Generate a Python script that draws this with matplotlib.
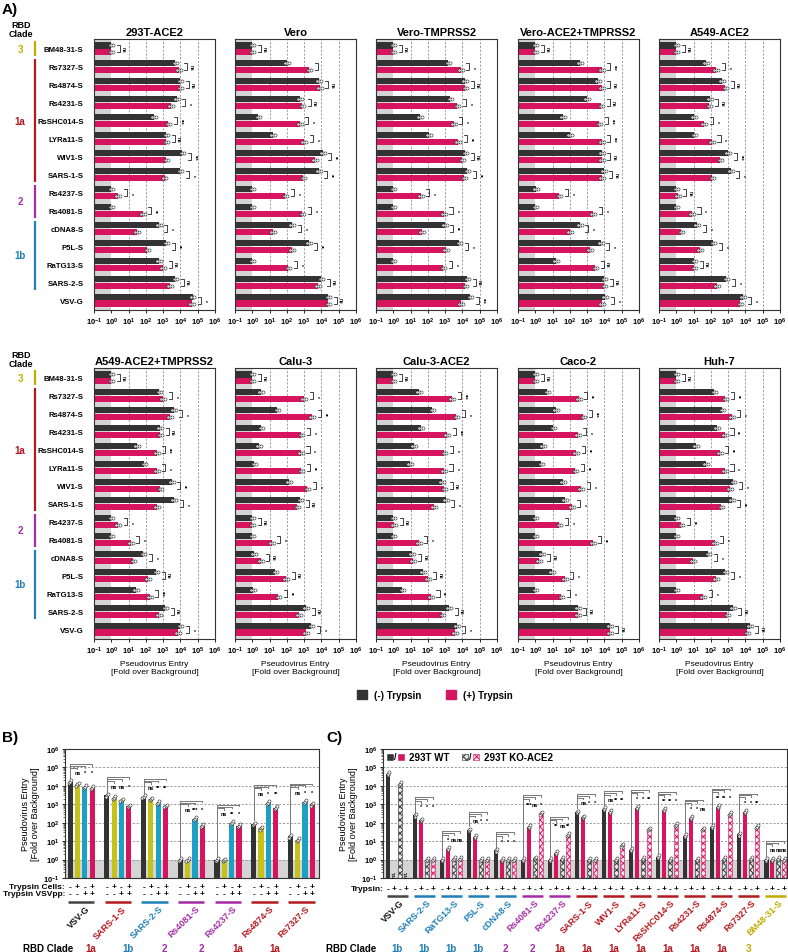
import numpy as np
import matplotlib.pyplot as plt
from matplotlib.patches import Patch, Rectangle
from matplotlib.transforms import blended_transform_factory as blend

plt.rcParams['font.family'] = ['Liberation Sans', 'DejaVu Sans']
plt.rcParams['font.weight'] = 'bold'
plt.rcParams['mathtext.fontset'] = 'custom'
plt.rcParams['mathtext.rm'] = 'Liberation Sans:bold'
plt.rcParams['mathtext.it'] = 'Liberation Sans:bold'
plt.rcParams['mathtext.bf'] = 'Liberation Sans:bold'
plt.rcParams['mathtext.default'] = 'rm'
plt.rcParams['hatch.linewidth'] = 0.7

W, H = 788, 953
DARK = '#333333'
PINK = '#d6145f'
OLIVE = '#c5c21a'
CYAN = '#1ea0c3'
GRAY_BG = '#d4d4d4'
clade_colors = {'1a': '#b3191f', '1b': '#1f7fb8', '2': '#a62ba6', '3': '#c2ac00', '-': '#444444'}

# ---------------- Panel A data ----------------
a_labels = ['BM48-31-S', 'Rs7327-S', 'Rs4874-S', 'Rs4231-S', 'RsSHC014-S', 'LYRa11-S', 'WIV1-S',
            'SARS-1-S', 'Rs4237-S', 'Rs4081-S', 'cDNA8-S', 'P5L-S', 'RaTG13-S', 'SARS-2-S', 'VSV-G']
a_clades = [('3', 0, 0), ('1a', 1, 7), ('2', 8, 9), ('1b', 10, 13)]

hek_minus = [1, 5000, 10000, 6000, 280, 1500, 13000, 10000, 1, 1, 550, 1500, 550, 5000, 50000]
hek_plus = [1, 8000, 10000, 2800, 2000, 1500, 1500, 1200, 2.5, 65, 30, 120, 1000, 2500, 45000]
hek_sig = ['ns', 'ns', 'ns', '*', '***', 'ns', '***', '*', '*', '**', '*', '**', 'ns', 'ns', '*']

vero_minus = [1, 100, 7000, 550, 2.2, 16, 12000, 7000, 1, 1, 200, 1800, 1, 10000, 25000]
vero_plus = [1, 2000, 8000, 800, 550, 1000, 4000, 900, 80, 800, 16, 200, 120, 6000, 25000]
vero_sig = ['ns', '', 'ns', 'ns', '*', '*', '**', '**', '*', '*', '*', '**', '*', 'ns', 'ns']

verot_minus = [1, 1500, 14000, 2000, 35, 115, 15000, 19000, 1, 1, 950, 6500, 1, 19000, 29000]
verot_plus = [1, 8000, 15000, 5000, 3200, 5500, 10000, 13000, 38, 850, 45, 1100, 800, 15000, 8000]
verot_sig = ['ns', '*', 'ns', '*', '*', '**', 'ns', '**', '*', '*', '**', '*', '*', 'ns', '***']

veroat_minus = [1, 380, 4300, 1000, 40, 100, 7000, 9000, 1.1, 1, 380, 6000, 15, 10000, 11000]
veroat_plus = [1, 7000, 7000, 6500, 5000, 7000, 7000, 7000, 25, 2200, 100, 1400, 3000, 10000, 7000]
veroat_sig = ['ns', '***', 'ns', 'ns', '***', '***', 'ns', 'ns', '*', '*', '*', '*', 'ns', 'ns', '*']

a549a_minus = [1, 50, 420, 85, 10, 11, 1000, 1400, 1, 1, 16, 140, 11, 800, 7000]
a549a_plus = [1, 200, 700, 80, 40, 115, 350, 120, 1.2, 8, 2, 23, 11, 230, 5000]
a549a_sig = ['ns', '*', 'ns', 'ns', '*', '*', '***', '*', 'ns', '*', '*', '*', 'ns', '*', '*']

a549at_minus = [1, 600, 4000, 650, 29, 80, 3200, 4300, 1, 1, 70, 400, 27, 1350, 10000]
a549at_plus = [1, 1000, 2500, 700, 420, 420, 700, 450, 2.5, 13, 19, 130, 170, 560, 7000]
a549at_sig = ['ns', '*', '*', 'ns', '***', '*', '**', '*', '*', '*', '*', 'ns', '***', 'ns', '*']

calu_minus = [1, 3, 28, 3.4, 2.4, 1.3, 130, 600, 1, 1, 1.2, 22, 1.1, 1300, 2600]
calu_plus = [1, 1000, 2900, 700, 650, 700, 1500, 400, 1, 13, 3, 90, 32, 500, 1300]
calu_sig = ['ns', '*', '**', '*', '*', '**', '*', 'ns', 'ns', '*', 'ns', 'ns', '**', 'ns', '*']

calua_minus = [1, 30, 180, 38, 16, 9, 650, 1100, 1, 1, 12, 50, 3.4, 1700, 4700]
calua_plus = [1, 2500, 4500, 1300, 900, 850, 900, 220, 1.1, 30, 13, 100, 150, 700, 3800]
calua_sig = ['ns', '***', '*', '***', '*', '*', 'ns', '*', 'ns', '*', 'ns', 'ns', '**', 'ns', '*']

caco_minus = [1, 5, 16, 11, 2.7, 2.2, 40, 50, 1, 1, 2.4, 9, 1, 290, 20000]
caco_plus = [1, 320, 600, 290, 230, 210, 450, 130, 25, 2100, 1.6, 50, 32, 280, 20000]
caco_sig = ['ns', '**', '***', '*', '**', '**', '*', '*', '*', '**', 'ns', '*', '*', 'ns', 'ns']

huh_minus = [1, 160, 470, 230, 14, 50, 2000, 1600, 1, 1, 70, 700, 1, 1800, 18000]
huh_plus = [1, 700, 1600, 650, 320, 650, 1300, 400, 2, 170, 9, 200, 35, 900, 13000]
huh_sig = ['ns', '**', '*', '**', '**', '*', '*', '**', '**', '*', '*', '*', '*', 'ns', 'ns']

a_titles = ['293T-ACE2', 'Vero', 'Vero-TMPRSS2', 'Vero-ACE2+TMPRSS2', 'A549-ACE2',
            'A549-ACE2+TMPRSS2', 'Calu-3', 'Calu-3-ACE2', 'Caco-2', 'Huh-7']
a_minus = [hek_minus, vero_minus, verot_minus, veroat_minus, a549a_minus,
           a549at_minus, calu_minus, calua_minus, caco_minus, huh_minus]
a_plus = [hek_plus, vero_plus, verot_plus, veroat_plus, a549a_plus,
          a549at_plus, calu_plus, calua_plus, caco_plus, huh_plus]
a_sig = [hek_sig, vero_sig, verot_sig, veroat_sig, a549a_sig,
         a549at_sig, calu_sig, calua_sig, caco_sig, huh_sig]

# ---------------- Panel B data ----------------
b_groups = ['VSV-G', 'SARS-1-S', 'SARS-2-S', 'Rs4081-S', 'Rs4237-S', 'Rs4874-S', 'Rs7327-S']
b_group_clade = ['-', '1a', '1b', '2', '2', '1a', '1a']
b_no_trypsin = [16500, 3000, 2600, 1, 1, 85, 18]
b_trypsin_cells = [12000, 2300, 1900, 1, 0.95, 50, 12]
b_trypsin_vsvpp = [9000, 1700, 1200, 165, 100, 1200, 1400]
b_trypsin_both = [8000, 800, 800, 70, 70, 650, 1000]
b_sig = [['ns', '*', '*'], ['ns', 'ns', '*'], ['ns', '**', '**'], ['ns', '***', '*'],
         ['ns', '**', '*'], ['ns', '*', '**'], ['ns', '*', '*']]
b_cells_signs = ['-', '+', '-', '+']
b_vsvpp_signs = ['-', '-', '+', '+']
b_clade_row = ['1a', '1b', '2', '2', '1a', '1a']

# ---------------- Panel C data ----------------
c_groups = ['VSV-G', 'SARS-2-S', 'RaTG13-S', 'P5L-S', 'cDNA8-S', 'Rs4081-S', 'Rs4237-S', 'SARS-1-S',
            'WIV1-S', 'LYRa11-S', 'RsSHC014-S', 'Rs4231-S', 'Rs4874-S', 'Rs7327-S', 'BM48-31-S']
c_group_clade = ['-', '1b', '1b', '1b', '1b', '2', '2', '1a', '1a', '1a', '1a', '1a', '1a', '1a', '3']
c_wt_minus = [45000, 250, 1, 40, 3.2, 1, 1, 380, 560, 3.5, 1.4, 20, 60, 23, 1]
c_wt_plus = [np.nan, 140, 3.8, 17, 1, 60, 2.4, 200, 400, 650, 500, 190, 750, 400, 1]
c_ko_minus = [13000, 1, 1.1, 1, 1, 1.2, 1.1, 1, 1, 1.1, 1, 1, 1.1, 1.1, 1.1]
c_ko_plus = [np.nan, 1, 1.1, 1, 1, 320, 22, 1, 6, 45, 80, 45, 300, 60, 1]
c_sig = [None, ['*', '*', '*'], ['*', 'ns', 'ns'], ['ns', '*', '*'], ['*', '*', '*'],
         ['***', 'ns', '*'], ['**', 'ns', '**'], ['ns', '*', '*'], ['ns', '**', '**'],
         ['*', '*', '**'], ['**', '**', '*'], ['*', '*', 'ns'], ['**', '**', '*'],
         ['*', '*', '**'], ['ns', 'ns', 'ns']]
c_trypsin_signs = ['-', '+', '-', '+']
c_clade_row = ['1b', '1b', '1b', '1b', '2', '2', '1a', '1a', '1a', '1a', '1a', '1a', '1a', '3']

fig = plt.figure(figsize=(W / 100, H / 100), dpi=100)


def px_ax(l, t, r, b):
    return fig.add_axes([l / W, 1 - b / H, (r - l) / W, (b - t) / H])


def fy(py):
    return 1 - py / H


def fx(px):
    return px / W


def decade_labels(lo, hi):
    return [10.0 ** e for e in range(lo, hi + 1)], ['$10^{%d}$' % e for e in range(lo, hi + 1)]


def frame(ax):
    for s in ax.spines.values():
        s.set_color('#333333')
        s.set_linewidth(0.8)


def panel_a(ax, title, minus, plus, sig, first, xlabel):
    n = len(a_labels)
    y = np.arange(n)
    minus = np.array(minus, float)
    plus = np.array(plus, float)
    ax.set_xscale('log')
    ax.set_xlim(0.1, 1e6)
    ax.set_ylim(n - 0.45, -0.55)
    ax.axvspan(0.1, 1, color=GRAY_BG, lw=0, zorder=0)
    for e in range(1, 6):
        ax.axvline(10.0 ** e, color='#8c8c8c', lw=0.6, ls=(0, (2.5, 2)), zorder=0.5)
    ax.barh(y - 0.19, minus - 0.1, left=0.1, height=0.34, color=DARK, zorder=2)
    ax.barh(y + 0.19, plus - 0.1, left=0.1, height=0.34, color=PINK, zorder=2)
    jit = np.array([0.8, 1.0, 1.3])
    for i in range(n):
        for v, yy in ((minus[i], y[i] - 0.19), (plus[i], y[i] + 0.19)):
            ax.scatter(v * jit, [yy] * 3, s=5, facecolor='white', edgecolor='#222222',
                       linewidth=0.4, zorder=3)
        top = max(minus[i], plus[i])
        xa = top * 2.1
        xb = xa * 1.5
        ax.plot([xa, xb, xb, xa], [i - 0.19, i - 0.19, i + 0.19, i + 0.19],
                color='#222222', lw=0.6, zorder=3)
        if sig[i]:
            ax.text(xb * 1.6, i, sig[i], rotation=270, fontsize=3.5, va='center', ha='center')
    ticks, labels = decade_labels(-1, 6)
    ax.set_xticks(ticks)
    ax.set_xticklabels(labels)
    ax.tick_params(axis='x', which='major', length=2.5, width=0.6, labelsize=5.5, pad=1.5)
    ax.tick_params(axis='x', which='minor', length=1.3, width=0.4)
    ax.set_yticks(y)
    ax.set_yticklabels(a_labels if first else [], fontsize=5.6)
    ax.tick_params(axis='y', length=0, pad=7.5)
    ax.set_title(title, fontsize=8, fontweight='bold', pad=3)
    if xlabel:
        ax.set_xlabel('Pseudovirus Entry\n[Fold over Background]', fontsize=6, labelpad=3)
    frame(ax)
    if first:
        tr = blend(fig.transFigure, ax.transData)
        for name, i0, i1 in a_clades:
            col = clade_colors[name]
            ax.plot([fx(35), fx(35)], [i0 - 0.42, i1 + 0.42], color=col, lw=1.6,
                    transform=tr, clip_on=False, solid_capstyle='butt')
            ax.text(fx(20), (i0 + i1) / 2, name, color=col, fontsize=7, ha='center',
                    va='center', transform=tr)


row_lefts = [94, 235, 376, 518, 659]
for k in range(10):
    r, c = divmod(k, 5)
    top, bot = (40, 311) if r == 0 else (369, 640)
    ax = px_ax(row_lefts[c], top, row_lefts[c] + 121, bot)
    panel_a(ax, a_titles[k], a_minus[k], a_plus[k], a_sig[k], c == 0, r == 1)

for py in (30, 360):
    fig.text(fx(21), fy(py), 'RBD\nClade', fontsize=6.5, ha='center', va='center', linespacing=1.0)
fig.text(fx(2), fy(10), 'A)', fontsize=11, ha='left', va='center')
fig.text(fx(2), fy(738), 'B)', fontsize=11, ha='left', va='center')
fig.text(fx(326), fy(738), 'C)', fontsize=11, ha='left', va='center')

fig.legend(handles=[Patch(color=DARK, label='(-) Trypsin'), Patch(color=PINK, label='(+) Trypsin')],
           loc='center', bbox_to_anchor=(fx(435), fy(696)), ncol=2, frameon=False,
           fontsize=7, handlelength=1.0, handleheight=1.0, columnspacing=2.5, handletextpad=0.8)


def log_bar_axes(ax):
    ax.set_yscale('log')
    ax.set_ylim(0.1, 1e6)
    ax.axhspan(0.1, 1, color=GRAY_BG, lw=0, zorder=0)
    for e in range(0, 6):
        ax.axhline(10.0 ** e, color='#8c8c8c', lw=0.6, ls=(0, (2.5, 2)), zorder=0.5)
    ticks, labels = decade_labels(-1, 6)
    ax.set_yticks(ticks)
    ax.set_yticklabels(labels)
    ax.tick_params(axis='y', which='major', length=2.5, width=0.6, labelsize=5.5, pad=1.5)
    ax.tick_params(axis='y', which='minor', length=1.3, width=0.4)
    ax.set_xticks([])
    ax.set_ylabel('Pseudovirus Entry\n[Fold over Background]', fontsize=6.5, labelpad=2)
    frame(ax)


def sig_brackets(ax, xs, vals, labels):
    vals = np.array(vals, float)
    top = np.nanmax(vals)
    heights = [top * 6.0, top * 7.5, top * 9.5]
    ax.plot([xs[0], xs[0]], [vals[0] * 1.6, heights[2]], color='#777777', lw=0.7, zorder=3)
    for k in range(3):
        h = heights[k]
        ax.plot([xs[0], xs[k + 1], xs[k + 1]], [h, h, h / 1.25], color='#777777', lw=0.7, zorder=3)
        ax.text(xs[k + 1], top * 3.2, labels[k], fontsize=4, ha='center', va='center', zorder=4)


def scatter_points(ax, x, v):
    if np.isnan(v):
        return
    ax.scatter([x - 0.03, x, x + 0.03], v * np.array([0.85, 1.0, 1.2]), s=5, facecolor='white',
               edgecolor='#222222', linewidth=0.4, zorder=3)


# ---------------- Panel B ----------------
axb = px_ax(65, 750, 319, 879)
log_bar_axes(axb)
nb = len(b_groups)
axb.set_xlim(-0.44, nb - 0.52)
b_series = [b_no_trypsin, b_trypsin_cells, b_trypsin_vsvpp, b_trypsin_both]
b_colors = [DARK, OLIVE, CYAN, PINK]
b_off = [-0.3, -0.1, 0.1, 0.3]
for s, (vals, col) in enumerate(zip(b_series, b_colors)):
    xs = np.arange(nb) + b_off[s]
    v = np.array(vals, float)
    axb.bar(xs, v - 0.1, bottom=0.1, width=0.14, color=col, zorder=2)
    for x, vv in zip(xs, v):
        scatter_points(axb, x, vv)
for g in range(nb):
    sig_brackets(axb, [g + o for o in b_off], [b_series[s][g] for s in range(4)], b_sig[g])

trb = blend(axb.transData, fig.transFigure)
fig.text(fx(65), fy(888), 'Trypsin Cells:', fontsize=6, ha='right', va='center')
fig.text(fx(65), fy(895), 'Trypsin VSVpp:', fontsize=6, ha='right', va='center')
for g in range(nb):
    for s in range(4):
        axb.text(g + b_off[s], fy(888), b_cells_signs[s], fontsize=6, ha='center', va='center', transform=trb)
        axb.text(g + b_off[s], fy(895), b_vsvpp_signs[s], fontsize=6, ha='center', va='center', transform=trb)
    col = clade_colors[b_group_clade[g]]
    axb.plot([g - 0.36, g + 0.36], [fy(903), fy(903)], color=col, lw=1.8, transform=trb,
             clip_on=False, solid_capstyle='butt')
    axb.text(g + 0.2, fy(908), b_groups[g], color=col if g else '#111111', fontsize=6.5, rotation=45,
             rotation_mode='anchor', ha='right', va='center', transform=trb)
fig.text(fx(48), fy(949), 'RBD Clade', fontsize=7, ha='center', va='center')
for g, cl in enumerate(b_clade_row):
    axb.text(g + 0.27, fy(949), cl, color=clade_colors[cl], fontsize=7, ha='center', va='center', transform=trb)

# ---------------- Panel C ----------------
axc = px_ax(383, 750, 787, 879)
log_bar_axes(axc)
nc = len(c_groups)
axc.set_xlim(-0.53, nc - 0.57)
c_series = [c_wt_minus, c_wt_plus, c_ko_minus, c_ko_plus]
c_off = [-0.33, -0.11, 0.11, 0.33]
for s, vals in enumerate(c_series):
    xs = np.arange(nc) + c_off[s]
    v = np.array(vals, float)
    if s == 0:
        axc.bar(xs, v - 0.1, bottom=0.1, width=0.15, color=DARK, zorder=2)
    elif s == 1:
        axc.bar(xs, v - 0.1, bottom=0.1, width=0.15, color=PINK, zorder=2)
    elif s == 2:
        axc.bar(xs, v - 0.1, bottom=0.1, width=0.15, facecolor='#e6e6e6', edgecolor=DARK,
                hatch='xxxxx', lw=0.4, zorder=2)
    else:
        axc.bar(xs, v - 0.1, bottom=0.1, width=0.15, facecolor='#fbe3ec', edgecolor=PINK,
                hatch='xxxxx', lw=0.4, zorder=2)
    for x, vv in zip(xs, v):
        if np.isnan(vv):
            axc.text(x, 0.18, 'n.t.', rotation=90, fontsize=3.5, ha='center', va='center', zorder=4)
        else:
            scatter_points(axc, x, vv)
for g in range(nc):
    if c_sig[g] is not None:
        sig_brackets(axc, [g + o for o in c_off], [c_series[s][g] for s in range(4)], c_sig[g])

# legend inside panel C
sq_h = 0.05
for x0, fc, ec, hatch in [(387, DARK, DARK, None), (398, PINK, PINK, None),
                          (462, '#e6e6e6', DARK, 'xxxxx'), (473, '#fbe3ec', PINK, 'xxxxx')]:
    axc.add_patch(Rectangle(((x0 - 383) / 404, 0.915), 6 / 404, sq_h, transform=axc.transAxes,
                            facecolor=fc, edgecolor=ec, hatch=hatch, lw=0.4, zorder=5))
axc.text((395.5 - 383) / 404, 0.94, '/', transform=axc.transAxes, fontsize=6.5, ha='center', va='center')
axc.text((470.5 - 383) / 404, 0.94, '/', transform=axc.transAxes, fontsize=6.5, ha='center', va='center')
axc.text((409 - 383) / 404, 0.94, '293T WT', transform=axc.transAxes, fontsize=7, ha='left', va='center')
axc.text((484 - 383) / 404, 0.94, '293T KO-ACE2', transform=axc.transAxes, fontsize=7, ha='left', va='center')

trc = blend(axc.transData, fig.transFigure)
fig.text(fx(384), fy(890), 'Trypsin:', fontsize=6, ha='right', va='center')
for g in range(nc):
    for s in range(4):
        axc.text(g + c_off[s], fy(890), c_trypsin_signs[s], fontsize=6, ha='center', va='center', transform=trc)
    col = clade_colors[c_group_clade[g]]
    axc.plot([g - 0.4, g + 0.4], [fy(897), fy(897)], color=col, lw=1.8, transform=trc,
             clip_on=False, solid_capstyle='butt')
    axc.text(g + 0.2, fy(902), c_groups[g], color=col if g else '#111111', fontsize=6.5, rotation=45,
             rotation_mode='anchor', ha='right', va='center', transform=trc)
fig.text(fx(326), fy(949), 'RBD Clade', fontsize=7, ha='left', va='center')
for g, cl in enumerate(c_clade_row):
    axc.text(g, fy(949), cl, color=clade_colors[cl], fontsize=7, ha='center', va='center', transform=trc)

fig.savefig('out.png', dpi=100)
